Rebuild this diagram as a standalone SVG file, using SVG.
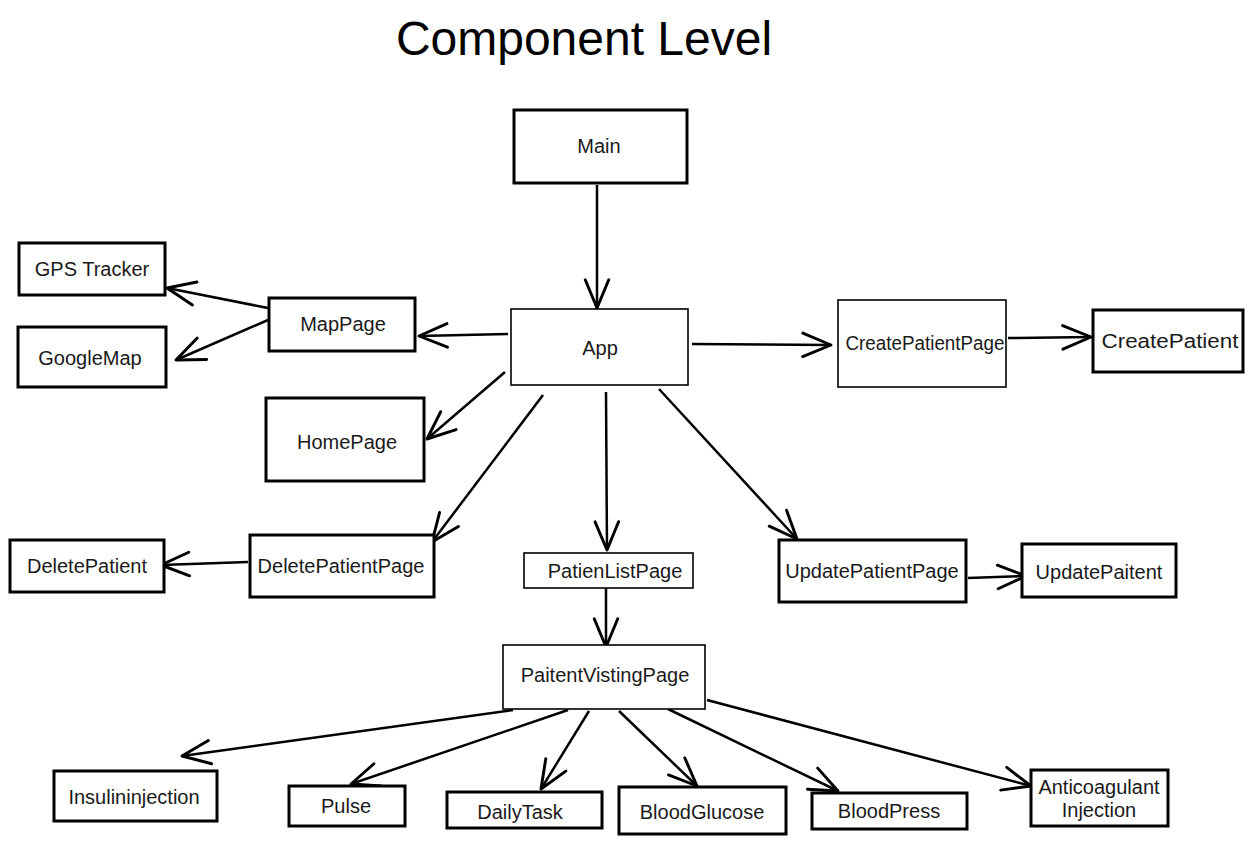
<svg xmlns="http://www.w3.org/2000/svg" width="1256" height="848" viewBox="0 0 1256 848">
<defs>
<style>
.box{fill:#fff;stroke:#000;stroke-width:3}
.thin{fill:#fff;stroke:#000;stroke-width:1.6}
.lbl{font-family:"Liberation Sans",Arial,sans-serif;font-size:20px;fill:#1a1a1a;text-anchor:middle;dominant-baseline:central}
.con{fill:none;stroke:#000;stroke-width:2.5;marker-end:url(#ah)}
</style>
<marker id="ah" markerUnits="userSpaceOnUse" markerWidth="40" markerHeight="40" viewBox="-30 -15 34 30" refX="0" refY="0" orient="auto">
<path d="M-24,-10 L0,0 L-24,10" fill="none" stroke="#000" stroke-width="2.5" stroke-linecap="round" stroke-linejoin="round"/>
</marker>
</defs>
<rect width="1256" height="848" fill="#fff"/>
<text x="584" y="55" font-family="'Liberation Sans',Arial,sans-serif" font-size="48" fill="#000" text-anchor="middle">Component Level</text>

<g id="connectors">
<path class="con" d="M597,185 L597,308"/>
<path class="con" d="M508,334 L419,336"/>
<path class="con" d="M268,308 L167,288" stroke-width="3.5"/>
<path class="con" d="M268,320 L176,360"/>
<path class="con" d="M505,372 L427,439"/>
<path class="con" d="M543,395 L432,542"/>
<path class="con" d="M248,562 L161,565" stroke-width="3"/>
<path class="con" d="M606,392 L607,550"/>
<path class="con" d="M659,389 L797,539"/>
<path class="con" d="M692,344 L831,345"/>
<path class="con" d="M1008,338 L1091,337" stroke-width="3.5"/>
<path class="con" d="M968,578 L1026,576" stroke-width="3"/>
<path class="con" d="M606,588 L606,647"/>
<path class="con" d="M513,710 L182,756"/>
<path class="con" d="M568,710 L351,784"/>
<path class="con" d="M589,711 L541,789"/>
<path class="con" d="M619,711 L697,786"/>
<path class="con" d="M668,709 L838,791"/>
<path class="con" d="M707,700 L1031,786"/>
</g>

<g id="main"><rect class="box" x="514" y="110" width="173" height="73"/><text class="lbl" x="599" y="146">Main</text></g>
<g id="app"><rect class="thin" x="511" y="309" width="177" height="76"/><text class="lbl" x="600" y="348">App</text></g>
<g id="gps"><rect class="box" x="19" y="243" width="146" height="52"/><text class="lbl" x="92" y="269">GPS Tracker</text></g>
<g id="mappage"><rect class="box" x="269" y="298" width="146" height="53"/><text class="lbl" x="343" y="324">MapPage</text></g>
<g id="googlemap"><rect class="box" x="18" y="327" width="148" height="60"/><text class="lbl" x="90" y="358">GoogleMap</text></g>
<g id="homepage"><rect class="box" x="266" y="398" width="158" height="83"/><text class="lbl" x="347" y="442">HomePage</text></g>
<g id="deletepatient"><rect class="box" x="10" y="540" width="154" height="52"/><text class="lbl" x="87" y="566">DeletePatient</text></g>
<g id="deletepatientpage"><rect class="box" x="250" y="535" width="184" height="62"/><text class="lbl" x="341" y="566">DeletePatientPage</text></g>
<g id="patienlistpage"><rect class="thin" x="524" y="553" width="169" height="35"/><text class="lbl" x="615" y="571">PatienListPage</text></g>
<g id="updatepatientpage"><rect class="box" x="779" y="540" width="187" height="62"/><text class="lbl" x="872" y="571">UpdatePatientPage</text></g>
<g id="updatepaitent"><rect class="box" x="1022" y="544" width="154" height="53"/><text class="lbl" x="1099" y="572">UpdatePaitent</text></g>
<g id="createpatientpage"><rect class="thin" x="838" y="300" width="168" height="87"/><text class="lbl" x="925" y="343" font-size="17" textLength="159" lengthAdjust="spacingAndGlyphs">CreatePatientPage</text></g>
<g id="createpatient"><rect class="box" x="1093" y="310" width="150" height="62"/><text class="lbl" x="1170" y="341" font-size="24" textLength="137" lengthAdjust="spacingAndGlyphs">CreatePatient</text></g>
<g id="paitentvistingpage"><rect class="thin" x="503" y="645" width="202" height="64"/><text class="lbl" x="605" y="675">PaitentVistingPage</text></g>
<g id="insulininjection"><rect class="box" x="54" y="771" width="163" height="50"/><text class="lbl" x="134" y="797">Insulininjection</text></g>
<g id="pulse"><rect class="box" x="289" y="786" width="116" height="40"/><text class="lbl" x="346" y="806">Pulse</text></g>
<g id="dailytask"><rect class="box" x="447" y="792" width="155" height="36"/><text class="lbl" x="520" y="812">DailyTask</text></g>
<g id="bloodglucose"><rect class="box" x="619" y="787" width="167" height="47"/><text class="lbl" x="702" y="812">BloodGlucose</text></g>
<g id="bloodpress"><rect class="box" x="812" y="793" width="155" height="36"/><text class="lbl" x="889" y="811">BloodPress</text></g>
<g id="anticoagulant"><rect class="box" x="1031" y="770" width="137" height="56"/><text class="lbl" x="1099" y="787">Anticoagulant</text><text class="lbl" x="1099" y="810">Injection</text></g>
</svg>
